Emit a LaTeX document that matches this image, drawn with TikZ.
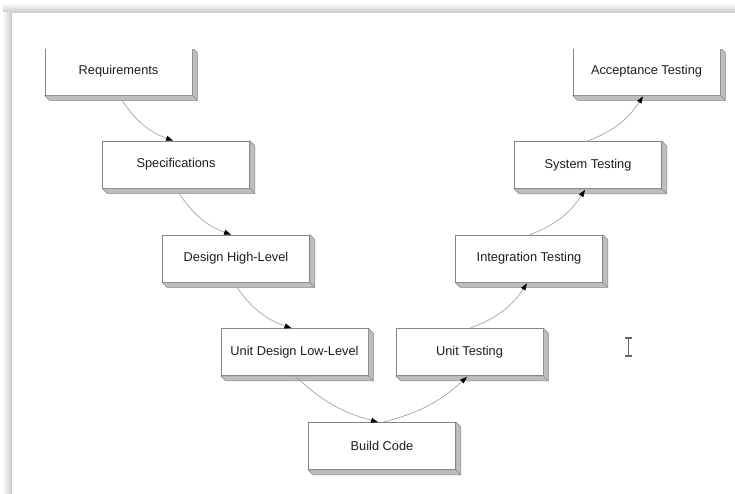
\documentclass[tikz,border=0pt]{standalone}
\usepackage{fontspec}
\setmainfont{Liberation Sans}
\usetikzlibrary{arrows.meta,calc}
\definecolor{edgegray}{HTML}{858585}
\definecolor{sidegray}{HTML}{BEBEBE}
\definecolor{linkgray}{HTML}{9A9A9A}
\definecolor{labelgray}{HTML}{1E1E1E}
\tikzset{
  stage/.style={draw=edgegray, fill=white, line width=0.7pt,
    minimum width=147pt, minimum height=47pt, inner sep=0pt,
    text=labelgray, font=\fontsize{12.8}{15}\selectfont},
  extrude/.style={fill=sidegray, draw=edgegray, line width=0.6pt, line join=round},
  flow/.style={draw=linkgray, line width=0.6pt,
    -{Triangle[length=7pt,width=5pt,color=black]}},
  cursorline/.style={draw=black!60, line width=1.1pt},
}
% 3-D side and bottom faces of a stage box
\newcommand{\extrusion}[1]{%
  \draw[extrude] (#1.south west) -- ++(5,5) -- ($(#1.south east)+(5,5)$)
    -- ($(#1.north east)+(5,5)$) -- (#1.north east) -- (#1.south east) -- cycle;
  \draw[extrude] (#1.south east) -- ++(5,5);}
\begin{document}
\begin{tikzpicture}[x=1pt,y=-1pt]
  \useasboundingbox (0,0) rectangle (735,494);
  \fill[white] (0,0) rectangle (735,494);
  % window frame shadow
  \shade[top color=white, bottom color=black!22] (3,3) rectangle (735,13);
  \shade[left color=white, right color=black!18] (2,13) rectangle (11,494);
  \draw[black!22, line width=0.6pt] (11,13) -- (11,494);

  \begin{scope}
    \clip (0,50) rectangle (735,494);
    % left branch
    \node[stage] (req)   at (118.5,71.5) {Requirements};
    \node[stage] (spec)  at (176,164.5)  {Specifications};
    \node[stage] (hld)   at (236,258.5)  {Design High-Level};
    \node[stage] (lld)   at (294.5,352)  {Unit Design Low-Level};
    % bottom
    \node[stage] (build) at (382,446)    {Build Code};
    % right branch
    \node[stage] (ut)    at (469.5,352)  {Unit Testing};
    \node[stage] (it)    at (529,258.5)  {Integration Testing};
    \node[stage] (st)    at (588,165)    {System Testing};
    \node[stage] (at)    at (646.5,71.5) {Acceptance Testing};
    \foreach \n in {req,spec,hld,lld,build,ut,it,st,at} {\extrusion{\n}}

    % descending flow
    \draw[flow] ($(req.south)+(3.5,5)$)  to[bend right=18] ($(spec.north)+(-3,0)$);
    \draw[flow] ($(spec.south)+(3,5)$)   to[bend right=18] ($(hld.north)+(-5,0)$);
    \draw[flow] ($(hld.south)+(1,5)$)    to[bend right=18] ($(lld.north)+(-3,0)$);
    \draw[flow] ($(lld.south)+(0.5,0)$)  to[bend right=14] ($(build.north)+(-4,0)$);
    % ascending flow
    \draw[flow] ($(build.north)+(1,0)$)  to[bend right=14] ($(ut.south)+(-2.5,1)$);
    \draw[flow] ($(ut.north)+(0.5,0)$)   to[bend right=18] ($(it.south)+(-2,1)$);
    \draw[flow] ($(it.north)+(1,0)$)     to[bend right=18] ($(st.south)+(-3,1)$);
    \draw[flow] ($(st.north)+(-1,0)$)    to[bend right=18] ($(at.south)+(-3.5,1)$);
  \end{scope}

  % text cursor
  \draw[cursorline] (628.5,338) -- (628.5,356);
  \draw[cursorline] (625,338) -- (632,338);
  \draw[cursorline] (625,356) -- (632,356);
\end{tikzpicture}
\end{document}
